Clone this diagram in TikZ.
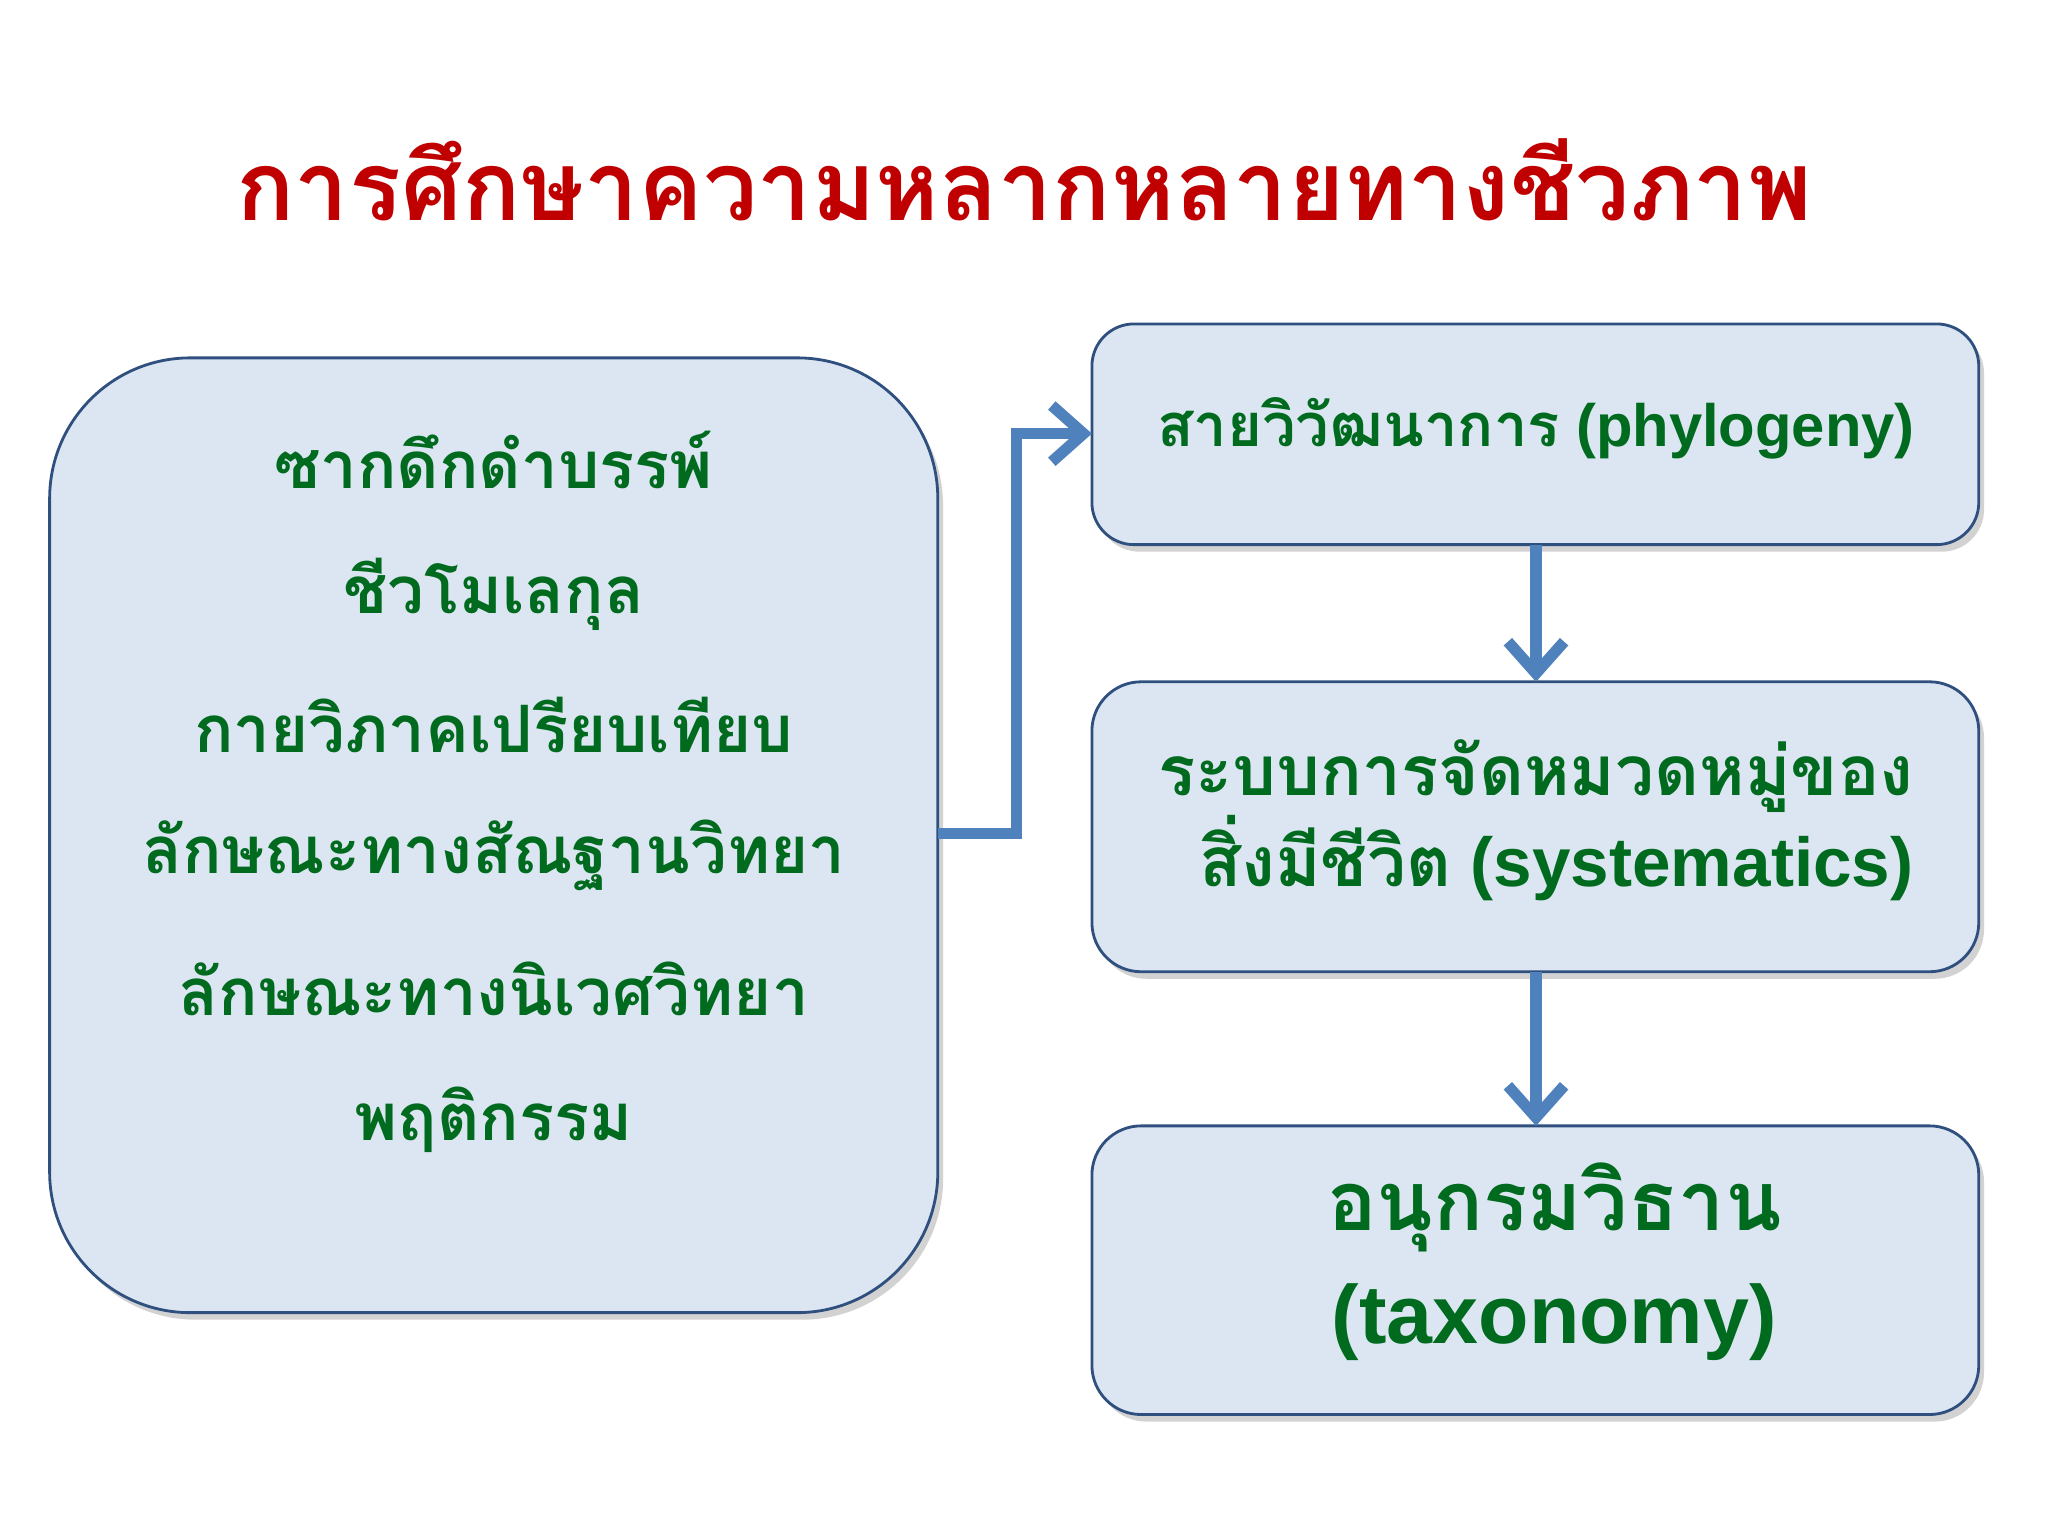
\documentclass[tikz,border=0pt]{standalone}
\usepackage{fontspec}
\setmainfont{Liberation Sans}
\newfontfamily\thaifont[Script=Thai]{Loma}
\usetikzlibrary{arrows.meta,shadows}
\definecolor{boxfill}{HTML}{DCE6F2}
\definecolor{boxdraw}{HTML}{2F4F7F}
\definecolor{arrowblue}{HTML}{4F81BD}
\definecolor{txtgreen}{HTML}{006B1E}
\definecolor{titlered}{HTML}{C00000}
\tikzset{
  box/.style={draw=boxdraw,line width=0.8pt,fill=boxfill,drop shadow={shadow xshift=1.5pt,shadow yshift=-2pt,fill=black!35}},
  conn/.style={draw=arrowblue,line width=3.2pt,-{Straight Barb[length=9pt,width=16pt,line width=3.2pt]}},
  txt/.style={text=txtgreen,font=\bfseries,align=center}
}
\begin{document}
\begin{tikzpicture}[x=0.013061cm,y=-0.013061cm]
\useasboundingbox (0,0) rectangle (1568,1176);
\node[text=titlered,font=\thaifont\bfseries\fontsize{27.5}{32}\selectfont] (title) at (784,138) {การศึกษาความหลากหลายทางชีวภาพ};
\draw[box,rounded corners=40pt] (38,274) rectangle (718,1005);
\coordinate (Lr) at (718,638);
\foreach \t/\y in {ซากดึกดำบรรพ์/352, ชีวโมเลกุล/455, กายวิภาคเปรียบเทียบ/555, ลักษณะทางสัณฐานวิทยา/655, ลักษณะทางนิเวศวิทยา/757, พฤติกรรม/857}
  \node[txt,font=\thaifont\bfseries\fontsize{18.6}{22}\selectfont] at (378,\y) {\t};
\draw[box,rounded corners=12pt] (836,248) rectangle (1515,417);
\coordinate (b1l) at (836,332);
\coordinate (b1b) at (1176,417);
\node[txt,font=\bfseries\fontsize{17}{21}\selectfont] at (1176,328) {{\thaifont สายวิวัฒนาการ} (phylogeny)};
\draw[box,rounded corners=14pt] (836,522) rectangle (1515,744);
\coordinate (b2t) at (1176,522);
\coordinate (b2b) at (1176,744);
\node[txt,font=\bfseries\fontsize{19.7}{26}\selectfont,align=right] at (1176,628) {{\thaifont ระบบการจัดหมวดหมู่ของ}\\{\thaifont สิ่งมีชีวิต} (systematics)};
\draw[box,rounded corners=14pt] (836,862) rectangle (1515,1083);
\coordinate (b3t) at (1176,862);
\node[txt,font=\bfseries\fontsize{23.5}{32}\selectfont] at (1190,966) {{\thaifont อนุกรมวิธาน}\\(taxonomy)};
\draw[conn] (Lr) -- (778,638) -- (778,332) -- (b1l);
\draw[conn] (b1b) -- (b2t);
\draw[conn] (b2b) -- (b3t);
\end{tikzpicture}
\end{document}
